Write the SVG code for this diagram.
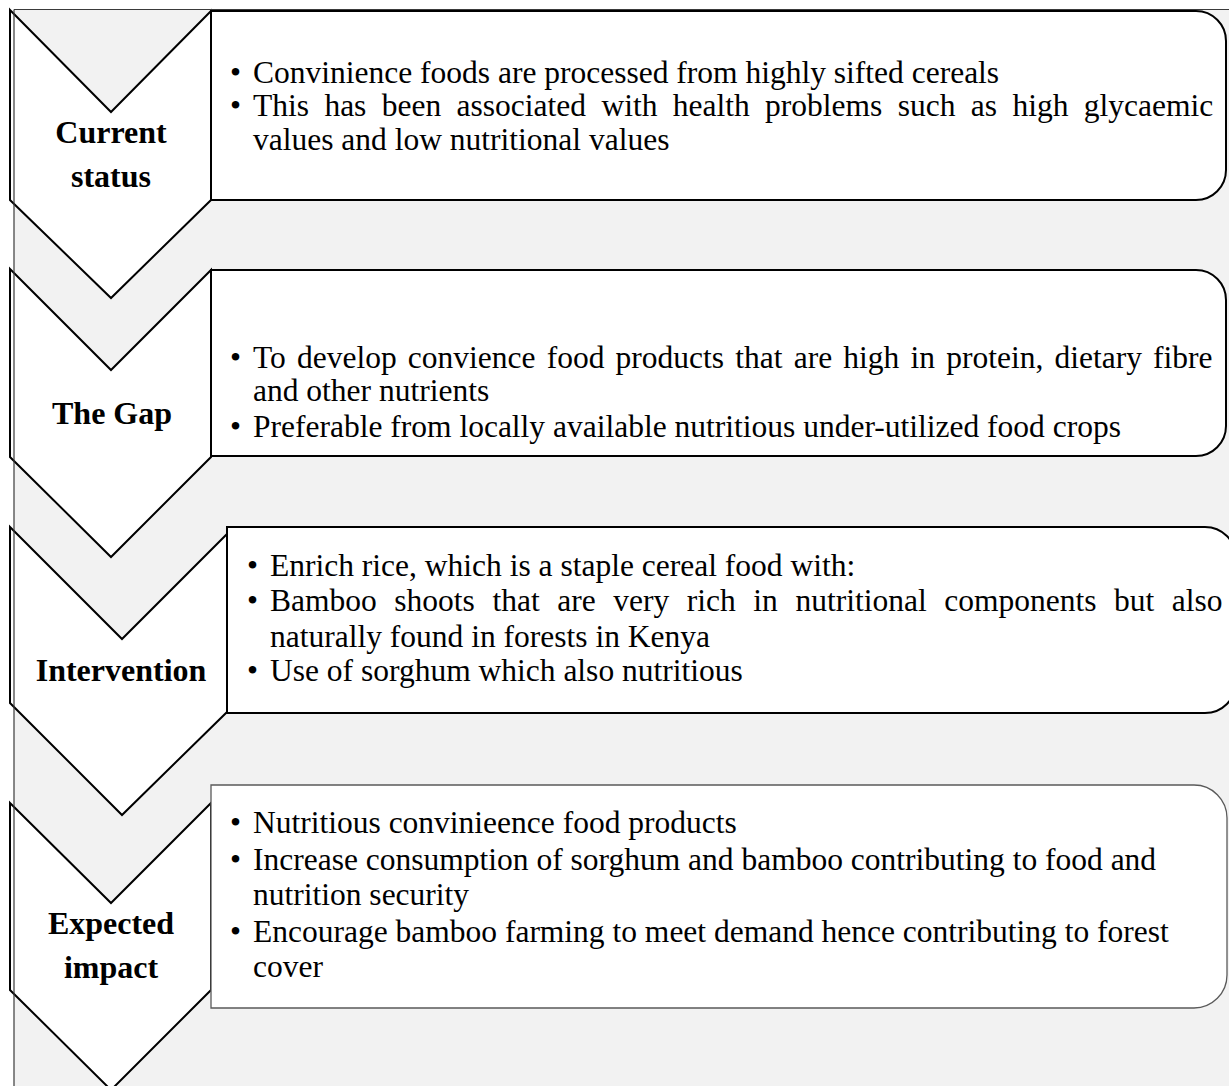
<svg xmlns="http://www.w3.org/2000/svg" width="1229" height="1086" viewBox="0 0 1229 1086">
  <style>
    .chev { fill: #ffffff; stroke: #000000; stroke-width: 2; stroke-linejoin: miter; }
    .box { fill: #ffffff; stroke: #000000; stroke-width: 2; }
    .box-thin { fill: #ffffff; stroke: #5a5a5a; stroke-width: 1.3; }
    .label { font-family: "Liberation Serif", "Times New Roman", serif; font-size: 32px; font-weight: bold; fill: #000000; text-anchor: middle; }
    .body { font-family: "Liberation Serif", "Times New Roman", serif; font-size: 31.5px; fill: #000000; }
    .frame { stroke: #3a3a3a; stroke-width: 1.2; fill: none; }
  </style>

  <!-- page background -->
  <rect x="0" y="0" width="1229" height="1086" fill="#ffffff"/>
  <rect x="14" y="10" width="1215" height="1076" fill="#f2f2f2"/>

  <!-- step 1 -->
  <g id="current-status">
    <path class="chev" d="M10,10 L111,112 L211,11 L211,200 L111,298 L10,200 Z"/>
    <path class="box" d="M211,11 H1196 A30,30 0 0 1 1226,41 V170 A30,30 0 0 1 1196,200 H211 Z"/>
    <text class="label" x="111" y="143">Current</text>
    <text class="label" x="111" y="187">status</text>
    <text class="body" x="230" y="83">•</text>
    <text class="body" x="253" y="83">Convinience foods are processed from highly sifted cereals</text>
    <text class="body" x="230" y="116">•</text>
    <text class="body" x="253" y="116" word-spacing="7.5">This has been associated with health problems such as high glycaemic</text>
    <text class="body" x="253" y="150">values and low nutritional values</text>
  </g>

  <!-- step 2 -->
  <g id="the-gap">
    <path class="chev" d="M10,269 L111,370 L211,270 L211,457 L111,557 L10,457 Z"/>
    <path class="box" d="M211,270 H1196 A30,30 0 0 1 1226,300 V426 A30,30 0 0 1 1196,456 H211 Z"/>
    <text class="label" x="112" y="424">The Gap</text>
    <text class="body" x="230" y="368">•</text>
    <text class="body" x="253" y="368" word-spacing="3.3">To develop convience food products that are high in protein, dietary fibre</text>
    <text class="body" x="253" y="401">and other nutrients</text>
    <text class="body" x="230" y="437">•</text>
    <text class="body" x="253" y="437">Preferable from locally available nutritious under-utilized food crops</text>
  </g>

  <!-- step 3 -->
  <g id="intervention">
    <path class="chev" d="M10,527 L122,639 L227,534 L227,712 L122,815 L10,703 Z"/>
    <path class="box" d="M227,527 H1205 A31,31 0 0 1 1236,558 V682 A31,31 0 0 1 1205,713 H227 Z"/>
    <text class="label" x="121" y="681">Intervention</text>
    <text class="body" x="247" y="576">•</text>
    <text class="body" x="270" y="576">Enrich rice, which is a staple cereal food with:</text>
    <text class="body" x="247" y="611">•</text>
    <text class="body" x="270" y="611" word-spacing="9.7">Bamboo shoots that are very rich in nutritional components but also</text>
    <text class="body" x="270" y="647">naturally found in forests in Kenya</text>
    <text class="body" x="247" y="681">•</text>
    <text class="body" x="270" y="681">Use of sorghum which also nutritious</text>
  </g>

  <!-- step 4 -->
  <g id="expected-impact">
    <path class="chev" d="M10,803 L111,903 L211,803 L211,990 L111,1090 L10,990 Z"/>
    <path class="box-thin" d="M211,785 H1194 A33,33 0 0 1 1227,818 V975 A33,33 0 0 1 1194,1008 H211 Z"/>
    <text class="label" x="111" y="934">Expected</text>
    <text class="label" x="111" y="978">impact</text>
    <text class="body" x="230" y="833">•</text>
    <text class="body" x="253" y="833">Nutritious convinieence food products</text>
    <text class="body" x="230" y="870">•</text>
    <text class="body" x="253" y="870">Increase consumption of sorghum and bamboo contributing to food and</text>
    <text class="body" x="253" y="905">nutrition security</text>
    <text class="body" x="230" y="942">•</text>
    <text class="body" x="253" y="942">Encourage bamboo farming to meet demand hence contributing to forest</text>
    <text class="body" x="253" y="977">cover</text>
  </g>

  <!-- page frame edges -->
  <g id="connectors">
    <line class="frame" x1="14" y1="9.5" x2="1229" y2="9.5"/>
    <line class="frame" x1="14" y1="9.5" x2="14" y2="1086"/>
  </g>
</svg>
